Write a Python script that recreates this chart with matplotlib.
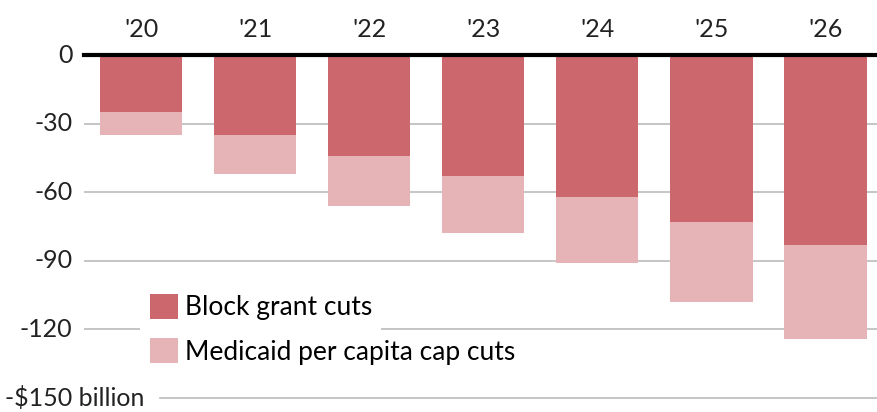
import numpy as np
import matplotlib.pyplot as plt
from matplotlib.patches import Rectangle

plt.rcParams['font.family'] = ['Lato', 'DejaVu Sans']

years = ["'20", "'21", "'22", "'23", "'24", "'25", "'26"]
block_grant = [-25, -35, -44, -53, -62, -73, -83]
total_cuts = [-35, -52, -66, -78, -91, -108, -124]
per_capita = [t - b for t, b in zip(total_cuts, block_grant)]

dark = '#cc686d'
light = '#e6b3b6'

fig = plt.figure(figsize=(8.78, 4.12), dpi=100)
ax = fig.add_axes([0.0957, 0.034, 0.9043, 0.8325])

x = np.arange(len(years))
ax.bar(x, block_grant, width=0.72, color=dark, zorder=2, label='Block grant cuts')
ax.bar(x, per_capita, bottom=block_grant, width=0.72, color=light, zorder=2,
       label='Medicaid per capita cap cuts')

ax.set_xlim(-0.5, 6.46)
ax.set_ylim(-150, 0)

# gridlines
for v in [-30, -60, -90, -120]:
    ax.axhline(v, color='#bbbbbb', lw=1.2, zorder=1)
ax.axhline(-150, xmin=0.096, color='#bbbbbb', lw=1.2, zorder=1, clip_on=False)
ax.axhline(0, color='black', lw=3, zorder=3, clip_on=False)

# white patch behind first legend row (breaks the -120 gridline)
ax.add_patch(Rectangle((-0.01, -122.5), 2.11, 19.7, facecolor='white',
                       edgecolor='none', zorder=1.5))

# y labels
for v in [0, -30, -60, -90, -120]:
    ax.text(-0.6, v, str(v), ha='right', va='center', fontsize=18, color='#222222')
ax.text(-0.5 - 79 / 114, -150, '-$150 billion', ha='left', va='center', fontsize=18,
        color='#222222')

# year labels on top
for xi, y in zip(x, years):
    ax.text(xi, 6, y, ha='center', va='bottom', fontsize=18, color='#222222')

ax.set_xticks([])
ax.set_yticks([])
for s in ax.spines.values():
    s.set_visible(False)

leg = ax.legend(loc='upper left', bbox_to_anchor=(150 / 878, 1 - 294 / 412),
                bbox_transform=fig.transFigure, fontsize=19, frameon=False,
                handlelength=1.06, handleheight=1.06, handletextpad=0.27,
                labelspacing=0.68, borderpad=0, borderaxespad=0)
leg.set_zorder(4)

fig.savefig('out.png', dpi=100)
